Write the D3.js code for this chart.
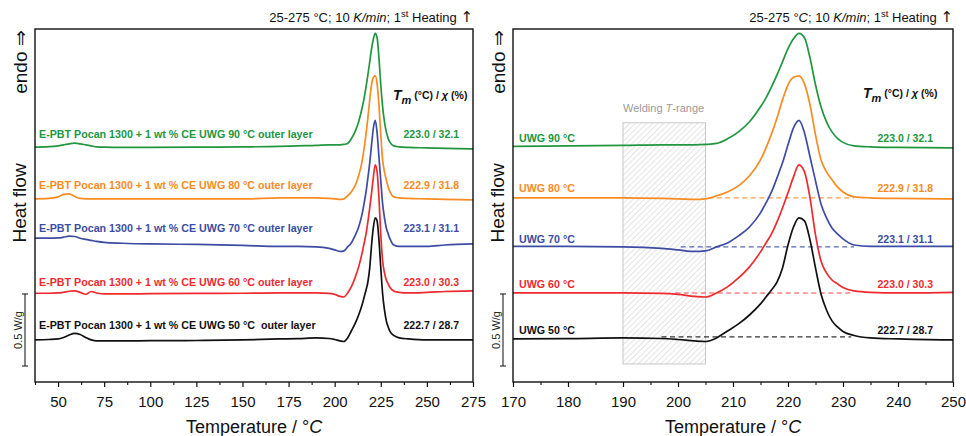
<!DOCTYPE html>
<html><head><meta charset="utf-8">
<script src="https://cdn.jsdelivr.net/npm/d3@7"></script>
<style>
body{margin:0;background:#fff}
svg{display:block}
text{font-family:"Liberation Sans",Arial,Helvetica,sans-serif}
</style>
</head><body>
<svg id="chart" width="966" height="436"></svg>
<script>
// ---------------- DATA ----------------
const temperature = [37.5, 45, 50, 53, 56, 59, 62, 65, 68, 71, 75, 85, 100, 125, 150, 170, 180, 190, 197, 200, 203, 205, 207, 209, 211, 213, 215, 216, 217, 218, 219, 220, 221, 222, 223, 224, 225, 226, 227, 228, 229, 230, 232, 235, 240, 250, 260, 275];

// heat flow (W/g, curves shifted vertically as in the figure)
const hfUWG50 = [0.292, 0.295, 0.299, 0.309, 0.326, 0.338, 0.330, 0.309, 0.292, 0.285, 0.285, 0.285, 0.287, 0.288, 0.292, 0.299, 0.301, 0.306, 0.302, 0.295, 0.285, 0.281, 0.306, 0.354, 0.403, 0.465, 0.542, 0.590, 0.639, 0.694, 0.792, 0.951, 1.076, 1.139, 1.118, 0.986, 0.792, 0.611, 0.500, 0.424, 0.382, 0.351, 0.323, 0.306, 0.299, 0.292, 0.292, 0.292];
const hfUWG60 = [0.616, 0.616, 0.618, 0.623, 0.630, 0.632, 0.622, 0.609, 0.628, 0.618, 0.611, 0.611, 0.613, 0.615, 0.616, 0.618, 0.618, 0.618, 0.615, 0.608, 0.594, 0.590, 0.618, 0.660, 0.722, 0.799, 0.903, 0.965, 1.028, 1.111, 1.208, 1.313, 1.424, 1.507, 1.458, 1.278, 1.021, 0.840, 0.757, 0.708, 0.681, 0.656, 0.632, 0.622, 0.618, 0.622, 0.628, 0.632];
const hfUWG70 = [0.998, 0.998, 1.000, 1.005, 1.012, 1.010, 0.998, 0.990, 0.983, 0.976, 0.969, 0.963, 0.958, 0.955, 0.948, 0.941, 0.941, 0.938, 0.927, 0.917, 0.906, 0.910, 0.938, 0.965, 1.014, 1.076, 1.174, 1.243, 1.319, 1.417, 1.521, 1.646, 1.764, 1.816, 1.729, 1.563, 1.396, 1.236, 1.139, 1.069, 1.028, 0.993, 0.951, 0.941, 0.941, 0.941, 0.951, 0.958];
const hfUWG80 = [1.271, 1.274, 1.285, 1.302, 1.306, 1.288, 1.274, 1.271, 1.271, 1.271, 1.271, 1.271, 1.271, 1.271, 1.271, 1.278, 1.278, 1.278, 1.274, 1.271, 1.267, 1.271, 1.292, 1.319, 1.361, 1.431, 1.542, 1.625, 1.722, 1.833, 1.958, 2.063, 2.115, 2.125, 2.069, 1.924, 1.715, 1.542, 1.458, 1.403, 1.354, 1.319, 1.285, 1.278, 1.274, 1.271, 1.267, 1.264];
const hfUWG90 = [1.630, 1.633, 1.639, 1.646, 1.653, 1.658, 1.653, 1.646, 1.639, 1.632, 1.630, 1.628, 1.628, 1.630, 1.632, 1.635, 1.639, 1.642, 1.646, 1.646, 1.646, 1.649, 1.656, 1.688, 1.736, 1.806, 1.910, 1.972, 2.049, 2.132, 2.222, 2.313, 2.382, 2.420, 2.389, 2.250, 2.063, 1.910, 1.806, 1.736, 1.691, 1.663, 1.639, 1.632, 1.628, 1.625, 1.622, 1.618];

const seriesNames = ["UWG 50 °C", "UWG 60 °C", "UWG 70 °C", "UWG 80 °C", "UWG 90 °C"];
const fullNames = [
  "E-PBT Pocan 1300 + 1 wt % CE UWG 50 °C  outer layer",
  "E-PBT Pocan 1300 + 1 wt % CE UWG 60 °C outer layer",
  "E-PBT Pocan 1300 + 1 wt % CE UWG 70 °C outer layer",
  "E-PBT Pocan 1300 + 1 wt % CE UWG 80 °C outer layer",
  "E-PBT Pocan 1300 + 1 wt % CE UWG 90 °C outer layer"
];
const meltLabels = ["222.7 / 28.7", "223.0 / 30.3", "223.1 / 31.1", "222.9 / 31.8", "223.0 / 32.1"];

// integration baselines (right panel): start T, end T, level (W/g) for UWG 50..80
const baseStart = [197, 199.5, 200.5, 205.5];
const baseEnd   = [231.5, 231.5, 232, 232];
const baseLevel = [0.313, 0.618, 0.938, 1.278];

const weldingRange = [190, 205];
const weldingLevels = [0.125, 1.799];
const scaleBar = [0.111, 0.611]; // 0.5 W/g

const leftTicks  = [50, 75, 100, 125, 150, 175, 200, 225, 250, 275];
const leftMinor  = [37.5, 62.5, 87.5, 112.5, 137.5, 162.5, 187.5, 212.5, 237.5, 262.5];
const rightTicks = [170, 180, 190, 200, 210, 220, 230, 240, 250];
const rightMinor = [175, 185, 195, 205, 215, 225, 235, 245];

// ---------------- STYLE / LAYOUT ----------------
const colors = ["#111111", "#ee2a2e", "#3c4ca2", "#f98b22", "#21963f"];
const allSeries = [hfUWG50, hfUWG60, hfUWG70, hfUWG80, hfUWG90];
const plotTop = 29, plotBottom = 382;
const y = d3.scaleLinear().domain([0, 2.45]).range([plotBottom, plotTop]);

const svg = d3.select("#chart");
const defs = svg.append("defs");
const pat = defs.append("pattern").attr("id", "hatch")
  .attr("patternUnits", "userSpaceOnUse").attr("width", 4).attr("height", 4)
  .attr("patternTransform", "rotate(45)");
pat.append("rect").attr("width", 4).attr("height", 4).attr("fill", "#fff");
pat.append("line").attr("x1", 0).attr("y1", 0).attr("x2", 0).attr("y2", 4)
  .attr("stroke", "#c8c8c8").attr("stroke-width", 1);

function drawPanel(cfg) {
  const x = d3.scaleLinear().domain(cfg.domain).range([cfg.x0, cfg.x1]);
  const g = svg.append("g");
  const clipId = "clip" + cfg.id;
  defs.append("clipPath").attr("id", clipId).append("rect")
    .attr("x", cfg.x0).attr("y", plotTop).attr("width", cfg.x1 - cfg.x0).attr("height", plotBottom - plotTop);

  if (cfg.welding) {
    g.append("rect")
      .attr("x", x(weldingRange[0])).attr("width", x(weldingRange[1]) - x(weldingRange[0]))
      .attr("y", y(weldingLevels[1])).attr("height", y(weldingLevels[0]) - y(weldingLevels[1]))
      .attr("fill", "url(#hatch)").attr("stroke", "#c8c8c8").attr("stroke-width", 1);
    const wt = g.append("text").attr("x", x(weldingRange[0])).attr("y", 112)
      .attr("font-size", 11).attr("fill", "#9a9a9a");
    wt.append("tspan").text("Welding ");
    wt.append("tspan").attr("font-style", "italic").text("T");
    wt.append("tspan").text("-range");
  }

  const plot = g.append("g").attr("clip-path", `url(#${clipId})`);

  if (cfg.baselines) {
    baseLevel.forEach((lv, i) => {
      plot.append("line")
        .attr("x1", x(baseStart[i])).attr("x2", x(baseEnd[i]))
        .attr("y1", y(lv)).attr("y2", y(lv))
        .attr("stroke", colors[i]).attr("stroke-opacity", 0.85)
        .attr("stroke-width", 1.1).attr("stroke-dasharray", "5,3.5");
    });
  }

  const line = d3.line().x((d, i) => x(temperature[i])).y(d => y(d)).curve(d3.curveMonotoneX);
  for (let i = 4; i >= 0; i--) {
    plot.append("path").attr("d", line(allSeries[i]))
      .attr("fill", "none").attr("stroke", colors[i]).attr("stroke-width", 1.7)
      .attr("stroke-linejoin", "round");
  }

  g.append("rect").attr("x", cfg.x0).attr("y", plotTop)
    .attr("width", cfg.x1 - cfg.x0).attr("height", plotBottom - plotTop)
    .attr("fill", "none").attr("stroke", "#111").attr("stroke-width", 1.4);

  const ax = g.append("g").attr("transform", `translate(0,${plotBottom})`)
    .call(d3.axisBottom(x).tickValues(cfg.ticks).tickSize(5).tickSizeOuter(0).tickPadding(9).tickFormat(d3.format("d")));
  ax.select(".domain").remove();
  ax.selectAll(".tick line").attr("stroke", "#111").attr("stroke-width", 1.2);
  ax.selectAll(".tick text").attr("font-size", 15).attr("fill", "#111")
    .attr("font-family", '"Liberation Sans",Arial,sans-serif');
  const axm = g.append("g").attr("transform", `translate(0,${plotBottom})`)
    .call(d3.axisBottom(x).tickValues(cfg.minor).tickSize(3).tickSizeOuter(0).tickFormat(""));
  axm.select(".domain").remove();
  axm.selectAll(".tick line").attr("stroke", "#111").attr("stroke-width", 1.1);

  const xt = g.append("text").attr("x", (cfg.x0 + cfg.x1) / 2).attr("y", 433)
    .attr("text-anchor", "middle").attr("font-size", 18).attr("fill", "#111");
  xt.append("tspan").text("Temperature / °");
  xt.append("tspan").attr("font-style", "italic").text("C");

  const tt = g.append("text").attr("x", cfg.x1).attr("y", 22)
    .attr("text-anchor", "end").attr("font-size", 13).attr("fill", "#111");
  tt.append("tspan").text("25-275 °");
  tt.append("tspan").attr("font-style", cfg.id === "R" ? "italic" : "normal").text("C");
  tt.append("tspan").text("; 10 ");
  tt.append("tspan").attr("font-style", "italic").text("K/min");
  tt.append("tspan").text("; 1");
  tt.append("tspan").attr("font-size", 9.5).attr("dy", -5).text("st");
  tt.append("tspan").attr("dy", 5).text(" Heating ");
  tt.append("tspan").attr("font-size", 15).attr("font-family", '"DejaVu Sans",sans-serif').text("↑");

  const yl = cfg.x0 - 8;
  g.append("text").attr("transform", `translate(${yl},${62}) rotate(-90)`)
    .attr("text-anchor", "middle").attr("font-size", 19).attr("fill", "#111").text("endo ⇒");
  g.append("text").attr("transform", `translate(${yl - 1},${203}) rotate(-90)`)
    .attr("text-anchor", "middle").attr("font-size", 19).attr("fill", "#111").text("Heat flow");

  const sx = cfg.x0 - 10;
  g.append("line").attr("x1", sx).attr("x2", sx).attr("y1", y(scaleBar[0])).attr("y2", y(scaleBar[1]))
    .attr("stroke", "#222").attr("stroke-width", 1.1);
  [scaleBar[0], scaleBar[1]].forEach(v => g.append("line")
    .attr("x1", sx - 3).attr("x2", sx + 3).attr("y1", y(v)).attr("y2", y(v))
    .attr("stroke", "#222").attr("stroke-width", 1.1));
  g.append("text").attr("transform", `translate(${sx - 3.5},${(y(scaleBar[0]) + y(scaleBar[1])) / 2}) rotate(-90)`)
    .attr("text-anchor", "middle").attr("font-size", 11).attr("fill", "#222").text("0.5 W/g");

  const th = g.append("text").attr("x", cfg.tmX).attr("y", cfg.tmY)
    .attr("font-weight", "bold").attr("fill", "#111");
  th.append("tspan").attr("font-size", 14).attr("font-style", "italic").text("T");
  th.append("tspan").attr("font-size", 11).attr("font-style", "italic").attr("dy", 3.5).text("m");
  th.append("tspan").attr("font-size", 10.5).attr("dy", -4.5).text(" (°C) / ");
  th.append("tspan").attr("font-size", 11).attr("font-style", "italic").text("χ");
  th.append("tspan").attr("font-size", 10.5).text(" (%)");

  for (let i = 0; i < 5; i++) {
    g.append("text").attr("x", cfg.nameX).attr("y", cfg.labelY[i])
      .attr("font-size", 10.7).attr("font-weight", "bold").attr("fill", colors[i])
      .style("white-space", "pre")
      .text(cfg.names[i]);
    g.append("text").attr("x", cfg.valX).attr("y", cfg.labelY[i])
      .attr("text-anchor", "end").attr("font-size", 10.5).attr("font-weight", "bold").attr("fill", colors[i])
      .text(meltLabels[i]);
  }
}

drawPanel({
  id: "L", x0: 35, x1: 473, domain: [37.5, 275], ticks: leftTicks, minor: leftMinor,
  names: fullNames, nameX: 39, valX: 459, labelY: [329, 286, 232, 189, 138],
  tmX: 393, tmY: 100, welding: false, baselines: false
});
drawPanel({
  id: "R", x0: 513, x1: 953, domain: [170, 250], ticks: rightTicks, minor: rightMinor,
  names: seriesNames, nameX: 519, valX: 933, labelY: [334, 288, 243, 192, 142],
  tmX: 863, tmY: 98, welding: true, baselines: true
});
</script>
</body></html>
